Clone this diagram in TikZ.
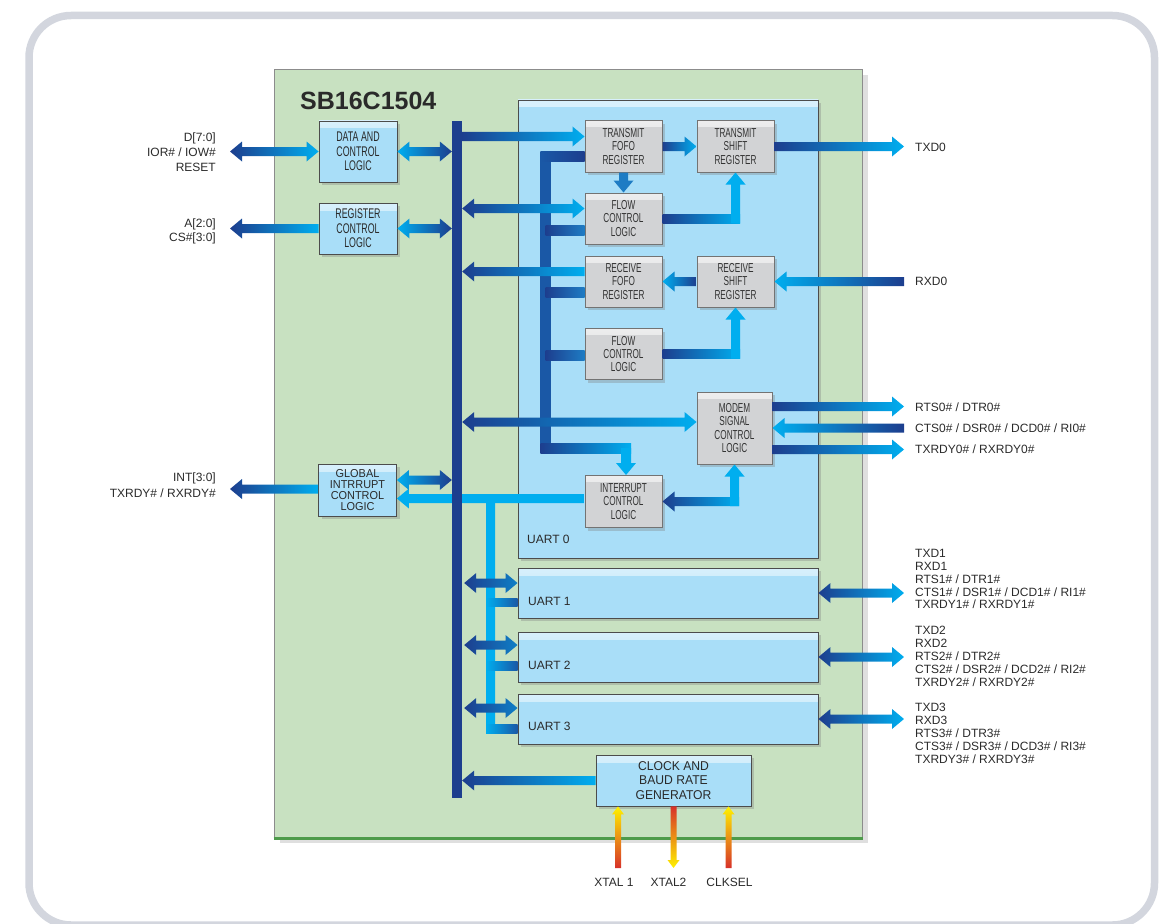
\documentclass[tikz,border=0pt]{standalone}
\usepackage{fontspec}
\setmainfont{Liberation Sans}
\newfontfamily\condA{Liberation Sans}[FakeStretch=0.63]
\newfontfamily\condB{Liberation Sans}[FakeStretch=0.95]
\usetikzlibrary{calc,shadows}
\definecolor{navy}{HTML}{1D3E8E}
\definecolor{midb}{HTML}{1A58A6}
\definecolor{stubR}{HTML}{1E7CC4}
\definecolor{lblue}{HTML}{00AEEF}
\definecolor{boxblue}{HTML}{A9DEF8}
\definecolor{regray}{HTML}{D2D3D5}
\definecolor{chipgreen}{HTML}{C8E1C1}
\definecolor{chipedge}{HTML}{4E9B4B}
\definecolor{framegray}{HTML}{D3D6DE}
\definecolor{txtc}{HTML}{2A2A2A}
\definecolor{xred}{HTML}{D7312A}
\definecolor{xyel}{HTML}{FFF200}

\def\aw{4.5pt}\def\hw{10pt}\def\hl{12pt}

% horizontal arrow, head at #3
\newcommand\HA[5][]{\shade[left color=#4,right color=#5,#1] let \p1=#2,\p2=#3,\n1={sign(\x2-\x1)} in
 (\x1,{\y1+\aw}) -- ({\x2-(\n1)*\hl},{\y1+\aw}) -- ({\x2-(\n1)*\hl},{\y1+\hw}) -- (\x2,\y1)
 -- ({\x2-(\n1)*\hl},{\y1-\hw}) -- ({\x2-(\n1)*\hl},{\y1-\aw}) -- (\x1,{\y1-\aw}) -- cycle;}
% horizontal double arrow
\newcommand\HB[5][]{\shade[left color=#4,right color=#5,#1] let \p1=#2,\p2=#3,\n1={sign(\x2-\x1)} in
 (\x1,\y1) -- ({\x1+(\n1)*\hl},{\y1+\hw}) -- ({\x1+(\n1)*\hl},{\y1+\aw}) -- ({\x2-(\n1)*\hl},{\y1+\aw})
 -- ({\x2-(\n1)*\hl},{\y1+\hw}) -- (\x2,\y1) -- ({\x2-(\n1)*\hl},{\y1-\hw}) -- ({\x2-(\n1)*\hl},{\y1-\aw})
 -- ({\x1+(\n1)*\hl},{\y1-\aw}) -- ({\x1+(\n1)*\hl},{\y1-\hw}) -- cycle;}
% vertical arrow, head at #3
\newcommand\VA[5][]{\shade[top color=#4,bottom color=#5,#1] let \p1=#2,\p2=#3,\n1={sign(\y2-\y1)} in
 ({\x1+\aw},\y1) -- ({\x1+\aw},{\y2-(\n1)*\hl}) -- ({\x1+\hw},{\y2-(\n1)*\hl}) -- (\x1,\y2)
 -- ({\x1-\hw},{\y2-(\n1)*\hl}) -- ({\x1-\aw},{\y2-(\n1)*\hl}) -- ({\x1-\aw},\y1) -- cycle;}
% bars
\newcommand\HBar[5][]{\shade[left color=#4,right color=#5,#1] let \p1=#2,\p2=#3 in (\x1,{\y1-\aw}) rectangle (\x2,{\y1+\aw});}
\newcommand\VBar[5][]{\shade[top color=#4,bottom color=#5,#1] let \p1=#2,\p2=#3 in ({\x1-\aw},\y1) rectangle ({\x1+\aw},\y2);}

\begin{document}
\begin{tikzpicture}[x=1pt,y=-1pt,
 lab/.style={inner sep=0pt, text=txtc, font=\fontsize{12}{12.85}\selectfont},
 sh/.style={drop shadow={shadow xshift=3pt,shadow yshift=-3pt,opacity=0.35}},
 bbox/.style={draw=black!70, line width=0.9pt, fill=boxblue, inner sep=0pt, align=center, text=txtc, sh,
   path picture={\shade[top color=white!55!boxblue,bottom color=boxblue] (path picture bounding box.north west) rectangle ([yshift=-7pt]path picture bounding box.north east);}},
 gbox/.style={draw=black!55, line width=1pt, fill=regray, inner sep=0pt, align=center, text=black!80,
   minimum width=77pt, minimum height=51pt, font=\condA\fontsize{13}{13.4}\selectfont, sh,
   path picture={\shade[top color=white!60!regray,bottom color=regray] (path picture bounding box.north west) rectangle ([yshift=-6pt]path picture bounding box.north east);}}
]
\useasboundingbox (0,0) rectangle (1161,923);
\clip (0,0) rectangle (1161,923);

% outer frame
\draw[framegray, line width=7.5pt, rounded corners=42pt] (29,15.5) rectangle (1154.5,925);

% chip
\node[draw=black!45, line width=1pt, fill=chipgreen, minimum width=588pt, minimum height=768pt, inner sep=0pt,
  drop shadow={shadow xshift=6pt,shadow yshift=-5pt,opacity=0.25}] (chip) at (568,454) {};
\draw[chipedge, line width=2.5pt] (chip.south west) -- (chip.south east);
\node[anchor=north west, inner sep=0pt, font=\bfseries\fontsize{25}{30}\selectfont, text=txtc] (title) at (300,91.5) {SB16C1504};

% UART boxes
\node[bbox, minimum width=300pt, minimum height=458pt] (u0) at (668,329) {};
\node[bbox, minimum width=300pt, minimum height=50pt] (u1) at (668,593) {};
\node[bbox, minimum width=300pt, minimum height=50pt] (u2) at (668,657) {};
\node[bbox, minimum width=300pt, minimum height=50pt] (u3) at (668,719) {};
\node[lab, anchor=north west] (u0l) at (527,534.7) {UART 0};
\node[lab, anchor=north west] (u1l) at (528,596.7) {UART 1};
\node[lab, anchor=north west] (u2l) at (528,660.7) {UART 2};
\node[lab, anchor=north west] (u3l) at (528,721.7) {UART 3};

% blue logic boxes
\node[bbox, minimum width=78pt, minimum height=61pt, font=\condA\fontsize{14}{14.6}\selectfont] (data) at (358,151.5) {DATA AND\\CONTROL\\LOGIC};
\node[bbox, minimum width=78pt, minimum height=51pt, font=\condA\fontsize{14}{14.5}\selectfont] (reg) at (358,228.5) {REGISTER\\CONTROL\\LOGIC};
\node[bbox, minimum width=78pt, minimum height=52pt, font=\condB\fontsize{11.5}{11.3}\selectfont] (global) at (357.5,490) {GLOBAL\\INTRRUPT\\CONTROL\\LOGIC};
\node[bbox, minimum width=155pt, minimum height=51pt, font=\condB\fontsize{12.8}{14.5}\selectfont] (clock) at (673.5,780.5) {CLOCK AND\\BAUD RATE\\GENERATOR};

% gray register boxes
\node[gbox] (tf) at (623.5,146.5) {TRANSMIT\\FOFO\\REGISTER};
\node[gbox] (ts) at (735.5,146.5) {TRANSMIT\\SHIFT\\REGISTER};
\node[gbox] (fc1) at (623.5,218.5) {FLOW\\CONTROL\\LOGIC};
\node[gbox] (rf) at (623.5,281.5) {RECEIVE\\FOFO\\REGISTER};
\node[gbox] (rs) at (735.5,281.5) {RECEIVE\\SHIFT\\REGISTER};
\node[gbox] (fc2) at (623.5,354) {FLOW\\CONTROL\\LOGIC};
\node[gbox, minimum width=75pt, minimum height=72pt] (modem) at (734.5,428) {MODEM\\SIGNAL\\CONTROL\\LOGIC};
\node[gbox, minimum height=52pt] (intr) at (623.5,501.5) {INTERRUPT\\CONTROL\\LOGIC};

% internal dark wiring of UART 0
\begin{scope}\def\aw{5pt}
\VBar{(545.5,151.5)}{(545.5,453)}{midb}{midb}
\HBar{(540.5,156.5)}{(tf.west)}{midb}{navy}
\HBar{(545.5,230)}{(fc1.west)}{navy}{stubR}
\HBar{(545.5,292.5)}{(rf.west)}{navy}{stubR}
\HBar{(545.5,355)}{(fc2.west)}{navy}{stubR}
\HBar{(540.5,448)}{(631,448)}{navy}{lblue}
\VA{(626,448)}{(intr.north)}{lblue}{lblue}
\end{scope}

% light interrupt wiring
\HA{($(intr.west)+(0,-3)$)}{(global.east)}{lblue}{lblue}
\begin{scope}\def\aw{4.5pt}
\VBar{(490.5,494)}{(490.5,733.3)}{lblue}{lblue}
\end{scope}
\begin{scope}\def\aw{4.3pt}
\HBar{(486,602.5)}{(u1.west)}{lblue}{midb}
\HBar{(486,666)}{(u2.west)}{lblue}{midb}
\HBar{(486,729)}{(u3.west)}{lblue}{midb}
\end{scope}

% bus
\node[fill=navy, minimum width=10pt, minimum height=677pt, inner sep=0pt] (bus) at (457,459.5) {};

\coordinate (L) at (230,0);
\coordinate (R) at (904,0);

% left side
\HB{(L |- data.west)}{(data.west)}{navy}{lblue}
\HB{(data.east)}{(bus.west)}{lblue}{navy}
\HA{(reg.west)}{(L |- reg.west)}{navy}{lblue}
\HB{(reg.east)}{(bus.west)}{lblue}{navy}
\HA{($(global.west)+(0,-1)$)}{(L)}{navy}{lblue}
\HB{($(global.east)+(0,-10)$)}{(bus.west)}{lblue}{navy}

% bus to UART 0 blocks
\HA{($(bus.east |- tf.west)+(0,-10)$)}{(tf.west)}{navy}{lblue}
\HB{($(bus.east |- fc1.west)+(0,-10)$)}{(fc1.west)}{navy}{lblue}
\HA{($(rf.west)+(0,-10)$)}{(bus.east)}{navy}{lblue}
\HB{($(bus.east |- modem.west)+(0,-6)$)}{(modem.west)}{navy}{lblue}

% inside UART 0
\HA{(tf.east)}{(ts.west)}{navy}{lblue}
\VA{(tf.south)}{(fc1.north)}{stubR}{stubR}
\HBar{(fc1.east)}{($(ts.south)+(4.5,0)$)}{navy}{lblue}
\VA{($(ts.south |- fc1.east)+(0,4.5)$)}{(ts.south)}{lblue}{lblue}
\HA{(rs.west)}{(rf.east)}{lblue}{navy}
\HBar{(fc2.east)}{($(rs.south)+(4.5,0)$)}{navy}{lblue}
\VA{($(rs.south |- fc2.east)+(0,4.5)$)}{(rs.south)}{lblue}{lblue}
\HA{($(modem.south |- intr.east)+(4.5,0)$)}{(intr.east)}{navy}{lblue}
\VA{($(modem.south |- intr.east)+(0,4.5)$)}{(modem.south)}{lblue}{lblue}

% external right side
\HA{(ts.east)}{(R)}{navy}{lblue}
\HA{(R |- rs.east)}{(rs.east)}{lblue}{navy}
\HA{($(modem.east)+(0,-21.5)$)}{(R)}{navy}{lblue}
\HA{(R |- modem.east)}{(modem.east)}{lblue}{navy}
\HA{($(modem.east)+(0,21.5)$)}{(R)}{navy}{lblue}
\HB{(u1.east)}{(R)}{navy}{lblue}
\HB{(u2.east)}{(R)}{navy}{lblue}
\HB{(u3.east)}{(R)}{navy}{lblue}

% bus to UART 1-3
\HB{($(bus.east |- u1.west)+(2,-10)$)}{(u1.west)}{navy}{lblue!45!midb}
\HB{($(bus.east |- u2.west)+(2,-12)$)}{(u2.west)}{navy}{lblue!45!midb}
\HB{($(bus.east |- u3.west)+(2,-11)$)}{(u3.west)}{navy}{lblue!45!midb}

% clock
\HA{(clock.west)}{(bus.east)}{navy}{lblue}
\begin{scope}\def\aw{3pt}\def\hw{6pt}\def\hl{8pt}
\VA{(618,868)}{(clock.south)}{xyel}{xred}
\VA{(clock.south)}{(673.5,868)}{xred}{xyel}
\VA{(728.5,868)}{(clock.south)}{xyel}{xred}
\end{scope}

% labels
\node[lab, anchor=north east, align=right, font=\fontsize{12}{15}\selectfont] (lD) at (216,132.6) {D[7:0]\\IOR\# / IOW\#\\RESET};
\node[lab, anchor=north east, align=right, font=\fontsize{12}{14}\selectfont] (lA) at (216,218.6) {A[2:0]\\CS\#[3:0]};
\node[lab, anchor=north east, align=right, font=\fontsize{12}{16}\selectfont] (lI) at (216,472.6) {INT[3:0]\\TXRDY\# / RXRDY\#};
\node[lab, anchor=north west] (lt0) at (915,142.6) {TXD0};
\node[lab, anchor=north west] (lr0) at (915,276.6) {RXD0};
\node[lab, anchor=north west] (lm1) at (915,402.4) {RTS0\# / DTR0\#};
\node[lab, anchor=north west] (lm2) at (915,423.8) {CTS0\# / DSR0\# / DCD0\# / RI0\#};
\node[lab, anchor=north west] (lm3) at (915,445) {TXRDY0\# / RXRDY0\#};
\node[lab, anchor=north west, align=left] (l1) at (915,549) {TXD1\\RXD1\\RTS1\# / DTR1\#\\CTS1\# / DSR1\# / DCD1\# / RI1\#\\TXRDY1\# / RXRDY1\#};
\node[lab, anchor=north west, align=left] (l2) at (915,626.4) {TXD2\\RXD2\\RTS2\# / DTR2\#\\CTS2\# / DSR2\# / DCD2\# / RI2\#\\TXRDY2\# / RXRDY2\#};
\node[lab, anchor=north west, align=left] (l3) at (915,703.4) {TXD3\\RXD3\\RTS3\# / DTR3\#\\CTS3\# / DSR3\# / DCD3\# / RI3\#\\TXRDY3\# / RXRDY3\#};
\node[lab, anchor=north] (lx1) at (614,878.4) {XTAL 1};
\node[lab, anchor=north] (lx2) at (668.5,878.4) {XTAL2};
\node[lab, anchor=north] (lx3) at (729.5,878.4) {CLKSEL};
\end{tikzpicture}
\end{document}
